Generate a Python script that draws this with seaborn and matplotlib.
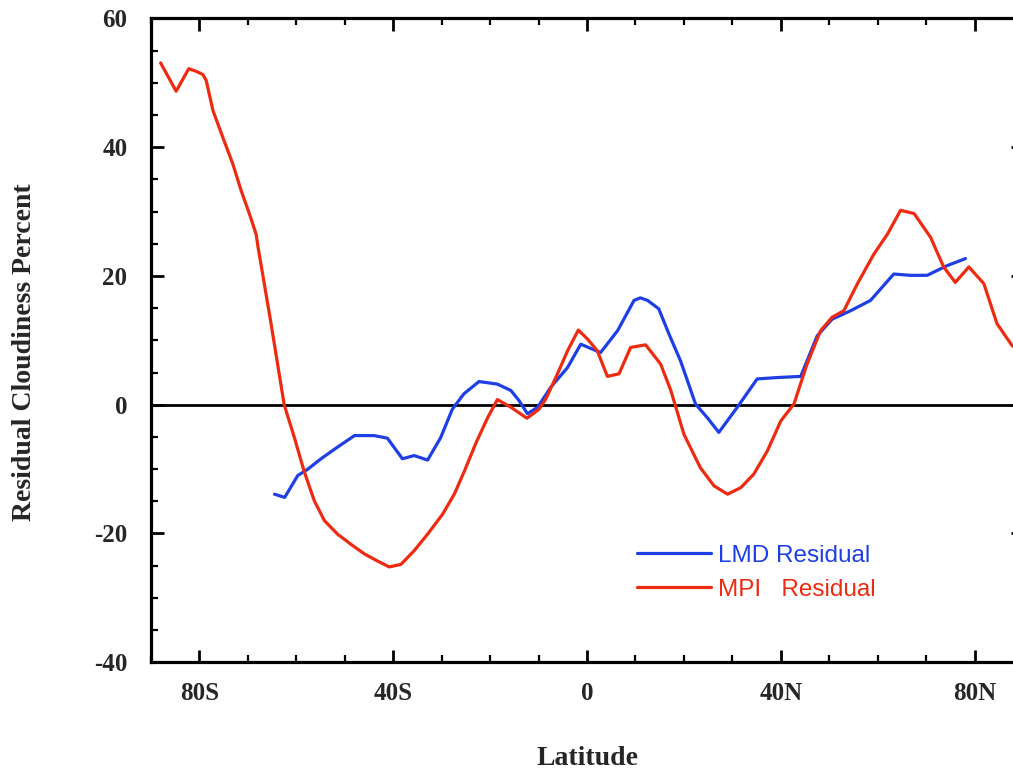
import numpy as np
import pandas as pd
import matplotlib
matplotlib.use("Agg")
import matplotlib.pyplot as plt
from matplotlib.ticker import MultipleLocator, FixedLocator
import seaborn as sns

# Latitude (deg, negative = south) and residual cloudiness (%) for each model
mpi_lat = [-88.0, -84.8, -82.2, -80.7, -79.3, -78.6, -77.2, -75.2, -73.1, -71.4,
           -69.7, -68.3, -67.9, -65.3, -62.5, -60.4, -58.4, -56.3, -54.2, -51.5,
           -48.7, -45.9, -43.2, -40.8, -38.4, -35.7, -32.9, -29.8, -27.4, -25.3,
           -22.9, -20.5, -18.5, -15.7, -12.4, -9.9, -8.5, -6.1, -4.0, -1.8,
           0.1, 2.1, 4.2, 6.6, 9.0, 12.1, 15.2, 17.3, 20.0, 23.4,
           26.2, 29.0, 31.7, 34.4, 37.2, 40.0, 42.7, 45.4, 48.2, 50.6,
           53.0, 55.8, 59.2, 62.0, 64.7, 67.5, 70.9, 73.6, 76.0, 78.8,
           81.9, 84.6, 87.7, 90.0]
mpi_res = [53.1, 48.7, 52.2, 51.8, 51.3, 50.4, 45.7, 41.6, 37.4, 33.3,
           29.7, 26.5, 24.5, 13.0, 0.0, -5.1, -10.3, -14.9, -18.0, -20.1,
           -21.7, -23.2, -24.3, -25.2, -24.8, -22.7, -20.1, -17.0, -13.9, -10.3,
           -5.9, -2.0, 0.8, -0.4, -2.1, -0.7, 0.9, 4.8, 8.4, 11.6,
           10.2, 8.4, 4.4, 4.8, 8.9, 9.3, 6.3, 2.2, -4.6, -9.8,
           -12.6, -13.9, -12.9, -10.8, -7.2, -2.5, 0.1, 6.3, 11.5, 13.6,
           14.6, 18.8, 23.4, 26.5, 30.2, 29.7, 26.0, 21.4, 19.0, 21.4,
           18.8, 12.6, 9.2, 8.0]

lmd_lat = [-64.5, -62.4, -59.7, -57.6, -54.9, -52.1, -48.0, -43.9, -41.2, -38.1,
           -35.7, -32.9, -30.2, -27.8, -25.4, -22.3, -18.5, -15.7, -14.0, -12.3,
           -10.2, -7.5, -4.0, -1.3, 2.8, 6.3, 9.7, 11.0, 12.5, 14.8,
           16.9, 19.3, 22.4, 24.8, 27.2, 31.2, 35.1, 38.8, 44.1, 47.5,
           50.6, 54.4, 58.5, 63.3, 66.7, 70.2, 74.3, 78.1]
lmd_res = [-13.9, -14.4, -11.0, -10.0, -8.4, -6.9, -4.8, -4.8, -5.2, -8.4,
           -7.9, -8.6, -5.1, -0.7, 1.7, 3.6, 3.2, 2.2, 0.6, -1.4,
           -0.4, 2.7, 5.8, 9.4, 8.1, 11.5, 16.2, 16.6, 16.2, 14.9,
           11.0, 6.8, 0.1, -2.0, -4.3, -0.2, 4.0, 4.2, 4.4, 10.7,
           13.3, 14.6, 16.2, 20.3, 20.1, 20.1, 21.6, 22.7]

series_names = ["LMD Residual", "MPI   Residual"]
x_tick_values = [-80, -40, 0, 40, 80]
x_tick_labels = ["80S", "40S", "0", "40N", "80N"]

df = pd.concat([
    pd.DataFrame({"Latitude": lmd_lat, "Residual": lmd_res, "Series": series_names[0]}),
    pd.DataFrame({"Latitude": mpi_lat, "Residual": mpi_res, "Series": series_names[1]}),
], ignore_index=True)

sns.set_style("ticks")
plt.rcParams["font.family"] = ["Liberation Serif", "DejaVu Serif"]
plt.rcParams["axes.unicode_minus"] = False

fig = plt.figure(figsize=(10.13, 7.70), dpi=100)
ax = fig.add_axes([0.149, 0.140, 0.861, 0.836])

palette = {series_names[0]: "#1f3fe6", series_names[1]: "#ee2a10"}
sns.lineplot(data=df, x="Latitude", y="Residual", hue="Series", palette=palette,
             linewidth=2.3, sort=False, estimator=None, ax=ax, legend=False)

ax.axhline(0, color="black", linewidth=2.0, zorder=1)

ax.set_xlim(-90, 90)
ax.set_ylim(-40, 60)

ax.xaxis.set_major_locator(FixedLocator(x_tick_values))
ax.set_xticklabels(x_tick_labels)
ax.xaxis.set_minor_locator(MultipleLocator(10))
ax.yaxis.set_major_locator(MultipleLocator(20))
ax.yaxis.set_minor_locator(MultipleLocator(5))

for s in ax.spines.values():
    s.set_linewidth(2.3)
    s.set_color("black")

ax.tick_params(which="both", direction="in", top=True, right=True, color="black")
ax.tick_params(which="major", length=9, width=2.0)
ax.tick_params(which="minor", length=5, width=1.6)
ax.tick_params(axis="x", which="major", pad=14, labelsize=18)
ax.tick_params(axis="y", which="major", pad=17, labelsize=18)
for lab in ax.get_xticklabels() + ax.get_yticklabels():
    lab.set_fontweight("bold")

ax.set_xlabel("Latitude", fontsize=20, fontweight="bold")
ax.set_ylabel("Residual Cloudiness Percent", fontsize=20, fontweight="bold")
ax.xaxis.set_label_coords(0.5, -0.130)
ax.yaxis.set_label_coords(-0.131, 0.481)

# Legend drawn from the plotted lines, text tinted to match
handles = ax.get_lines()[:2]
leg = ax.legend(handles, series_names, loc="upper left",
                bbox_to_anchor=(0.629, 0.2925), bbox_transform=fig.transFigure,
                frameon=False, borderpad=0, borderaxespad=0,
                handlelength=3.05, handletextpad=0.29, labelspacing=0.5,
                prop={"family": ["Liberation Sans", "DejaVu Sans"], "size": 17.5},
                labelcolor="linecolor")

fig.savefig("out.png", dpi=100)
